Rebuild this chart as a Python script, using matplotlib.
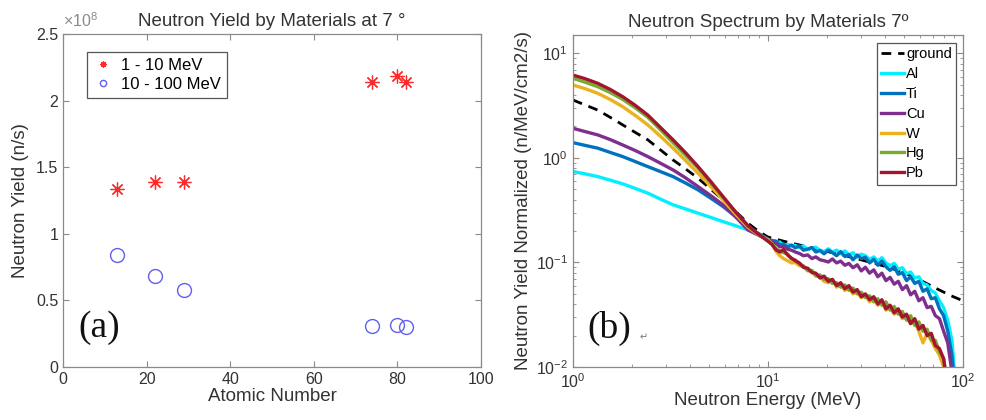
import matplotlib
matplotlib.use("Agg")
import matplotlib.pyplot as plt
from matplotlib.ticker import LogLocator, NullFormatter, FuncFormatter

plt.rcParams['font.family'] = ['Liberation Sans', 'DejaVu Sans']
plt.rcParams['mathtext.fontset'] = 'custom'
plt.rcParams['mathtext.rm'] = 'Liberation Sans'
plt.rcParams['mathtext.default'] = 'regular'

# ---- panel (a): integrated yield vs atomic number ----
atomic_number = [13, 22, 29, 74, 80, 82]
yield_1_10 = [1.34e8, 1.39e8, 1.39e8, 2.142e8, 2.187e8, 2.137e8]
yield_10_100 = [0.84e8, 0.683e8, 0.576e8, 0.31e8, 0.313e8, 0.30e8]

# ---- panel (b): spectra ----
ground_energy = [1.0, 1.15, 1.34, 1.55, 1.8, 2.08, 2.42, 2.8, 3.26, 3.78, 4.38, 5.08,
                 5.88, 6.8, 7.89, 8.9, 10.0, 12.0, 14.5, 17.5, 21.0, 25.0, 30.0, 36.0,
                 43.0, 52.0, 62.0, 75.0, 87.0, 100.0]
ground_flux = [3.58, 3.22, 2.87, 2.45, 2.07, 1.76, 1.49, 1.20, 0.957, 0.785, 0.64, 0.505,
               0.397, 0.31, 0.238, 0.20, 0.175, 0.16, 0.147, 0.135, 0.125, 0.116, 0.106, 0.097,
               0.088, 0.077, 0.066, 0.055, 0.048, 0.043]

energy_mev = [1.0, 1.15, 1.34, 1.55, 1.8, 2.08, 2.42, 2.8, 3.26, 3.78, 4.38, 5.08, 5.88,
              6.8, 7.89, 8.9, 10.0, 10.5, 11.0, 11.5, 12.0, 12.6, 13.2, 13.8, 14.5, 15.2,
              16.0, 16.8, 17.6, 18.5, 19.4, 20.4, 21.4, 22.5, 23.6, 24.8, 26.0, 27.3, 28.7,
              30.1, 31.6, 33.2, 34.9, 36.6, 38.4, 40.3, 42.3, 44.4, 46.6, 48.9, 51.4, 53.9,
              56.6, 59.4, 62.4, 65.5, 68.8, 72.2, 75.8, 79.6, 83.6, 87.8, 92.2]

flux_al = [0.741, 0.705, 0.663, 0.613, 0.565, 0.512, 0.46, 0.405, 0.356, 0.325, 0.296, 0.27,
           0.246, 0.225, 0.205, 0.185, 0.163,
           0.160, 0.154, 0.157, 0.146, 0.149, 0.143, 0.146, 0.139, 0.144, 0.133, 0.137, 0.140,
           0.131, 0.127, 0.135, 0.126, 0.131, 0.121, 0.129, 0.118, 0.124, 0.112, 0.120, 0.116,
           0.107, 0.113, 0.103, 0.111, 0.099, 0.093, 0.098, 0.086, 0.089, 0.078, 0.081, 0.071,
           0.073, 0.063, 0.061, 0.054, 0.051, 0.043, 0.037, 0.028, 0.018, 0.006]
flux_ti = [1.40, 1.32, 1.24, 1.13, 1.03, 0.925, 0.826, 0.742, 0.663, 0.575, 0.495, 0.413,
           0.343, 0.277, 0.221, 0.19, 0.168,
           0.162, 0.160, 0.147, 0.150, 0.140, 0.147, 0.138, 0.144, 0.131, 0.134, 0.139, 0.126,
           0.130, 0.121, 0.131, 0.124, 0.116, 0.127, 0.114, 0.119, 0.106, 0.118, 0.109, 0.112,
           0.099, 0.107, 0.094, 0.103, 0.091, 0.084, 0.091, 0.077, 0.080, 0.067, 0.073, 0.063,
           0.066, 0.053, 0.056, 0.045, 0.046, 0.036, 0.031, 0.022, 0.013, 0.005]
flux_cu = [1.92, 1.79, 1.66, 1.50, 1.33, 1.18, 1.03, 0.893, 0.768, 0.645, 0.532, 0.437,
           0.356, 0.275, 0.205, 0.183, 0.165,
           0.158, 0.152, 0.141, 0.143, 0.134, 0.131, 0.126, 0.122, 0.116, 0.118, 0.109, 0.113,
           0.106, 0.104, 0.101, 0.108, 0.099, 0.103, 0.094, 0.098, 0.089, 0.095, 0.083, 0.090,
           0.079, 0.085, 0.073, 0.079, 0.067, 0.072, 0.062, 0.066, 0.055, 0.060, 0.049, 0.053,
           0.043, 0.046, 0.037, 0.038, 0.031, 0.029, 0.022, 0.017, 0.009, 0.004]
flux_w = [4.98, 4.61, 4.15, 3.63, 3.09, 2.56, 2.07, 1.62, 1.24, 0.944, 0.714, 0.535,
          0.397, 0.292, 0.218, 0.185, 0.165,
          0.150, 0.128, 0.116, 0.109, 0.104, 0.099, 0.100, 0.093, 0.091, 0.083, 0.082, 0.074,
          0.073, 0.066, 0.064, 0.068, 0.058, 0.062, 0.054, 0.058, 0.050, 0.053, 0.046, 0.049,
          0.042, 0.045, 0.039, 0.041, 0.035, 0.037, 0.032, 0.034, 0.029, 0.030, 0.026, 0.027,
          0.022, 0.017, 0.021, 0.018, 0.015, 0.013, 0.010, 0.005, 0.003, 0.002]
flux_hg = [5.77, 5.32, 4.80, 4.23, 3.63, 3.03, 2.45, 1.87, 1.40, 1.06, 0.80, 0.581,
           0.42, 0.305, 0.225, 0.188, 0.160,
           0.150, 0.136, 0.128, 0.124, 0.121, 0.108, 0.106, 0.096, 0.093, 0.084, 0.084, 0.075,
           0.076, 0.069, 0.070, 0.063, 0.064, 0.058, 0.061, 0.054, 0.057, 0.050, 0.052, 0.046,
           0.048, 0.042, 0.045, 0.039, 0.042, 0.035, 0.038, 0.032, 0.034, 0.028, 0.031, 0.025,
           0.027, 0.022, 0.023, 0.018, 0.018, 0.014, 0.012, 0.007, 0.003, 0.002]
flux_pb = [6.2, 5.74, 5.17, 4.53, 3.85, 3.20, 2.57, 1.97, 1.49, 1.12, 0.826, 0.597,
           0.427, 0.307, 0.225, 0.188, 0.160,
           0.148, 0.132, 0.126, 0.133, 0.118, 0.110, 0.104, 0.099, 0.090, 0.088, 0.080, 0.079,
           0.071, 0.074, 0.066, 0.069, 0.060, 0.064, 0.056, 0.060, 0.052, 0.055, 0.047, 0.050,
           0.044, 0.047, 0.040, 0.044, 0.036, 0.039, 0.033, 0.036, 0.030, 0.032, 0.026, 0.029,
           0.023, 0.025, 0.020, 0.021, 0.016, 0.015, 0.012, 0.006, 0.003, 0.002]

materials = ['Al', 'Ti', 'Cu', 'W', 'Hg', 'Pb']
spectra = [flux_al, flux_ti, flux_cu, flux_w, flux_hg, flux_pb]
colors = ['#00F0FF', '#0072BD', '#7E2F8E', '#EDB120', '#77AC30', '#A2142F']

axis_gray = '#8a8a8a'
text_gray = '#333333'
LABEL_SIZE = 13.5
TICK_SIZE = 11.5


def style_box(ax):
    for sp in ax.spines.values():
        sp.set_color(axis_gray)
        sp.set_linewidth(0.9)
    ax.tick_params(which='both', direction='in', top=True, right=True,
                   color=axis_gray, labelcolor=text_gray, labelsize=TICK_SIZE)
    ax.tick_params(which='major', length=4)
    ax.tick_params(which='minor', length=2)


def finish_legend(leg):
    leg.get_frame().set_edgecolor('#555555')
    leg.get_frame().set_linewidth(0.9)


fig = plt.figure(figsize=(9.86, 4.2), dpi=100)

# left panel
ax1 = fig.add_axes([0.0639, 0.126, 0.424, 0.793])
ax1.plot(atomic_number, yield_1_10, linestyle='none', marker=(8, 2, 0),
         ms=10, mew=0.9, color='#ff2a2a', label='1 - 10 MeV')
ax1.plot(atomic_number, yield_10_100, linestyle='none', marker='o',
         ms=10, mew=1.0, mfc='none', mec='#6060f0', label='10 - 100 MeV')
ax1.set_xlim(0, 100)
ax1.set_ylim(0, 2.5e8)
ax1.set_xticks([0, 20, 40, 60, 80, 100])
ax1.set_yticks([0, 0.5e8, 1e8, 1.5e8, 2e8, 2.5e8])
ax1.yaxis.set_major_formatter(FuncFormatter(lambda v, _: f'{v / 1e8:g}'))
style_box(ax1)
ax1.text(0.0, 1.012, r'$\times10^{8}$', transform=ax1.transAxes, ha='left', va='bottom',
         fontsize=TICK_SIZE, color=axis_gray)
ax1.set_xlabel('Atomic Number', fontsize=LABEL_SIZE, color=text_gray, labelpad=1)
ax1.set_ylabel('Neutron Yield (n/s)', fontsize=LABEL_SIZE, color=text_gray, labelpad=5)
ax1.set_title('Neutron Yield by Materials at 7 °', fontsize=LABEL_SIZE, color=text_gray,
              pad=6)
leg1 = ax1.legend(loc='upper left', bbox_to_anchor=(0.057, 0.946), borderaxespad=0,
                  fontsize=12, markerscale=0.45, handlelength=1.2, handletextpad=0.5,
                  labelspacing=0.25, fancybox=False, framealpha=1, borderpad=0.35)
finish_legend(leg1)
ax1.text(0.036, 0.117, '(a)', transform=ax1.transAxes, ha='left', va='center',
         fontsize=27, family='Liberation Serif', color='#111111')

# right panel
ax2 = fig.add_axes([0.5811, 0.1262, 0.3955, 0.7905])
ax2.plot(ground_energy, ground_flux, color='black', lw=2.0, dashes=(3.5, 2.5),
         label='ground')
for name, flux, c in zip(materials, spectra, colors):
    ax2.plot(energy_mev, flux, color=c, lw=2.4, label=name)
ax2.set_xscale('log')
ax2.set_yscale('log')
ax2.set_xlim(1, 100)
ax2.set_ylim(1e-2, 15)
ax2.xaxis.set_minor_locator(LogLocator(base=10, subs=range(2, 10)))
ax2.yaxis.set_minor_locator(LogLocator(base=10, subs=range(2, 10)))
ax2.xaxis.set_minor_formatter(NullFormatter())
ax2.yaxis.set_minor_formatter(NullFormatter())
style_box(ax2)
ax2.set_xlabel('Neutron Energy (MeV)', fontsize=LABEL_SIZE, color=text_gray, labelpad=1)
ax2.set_ylabel('Neutron Yield Normalized (n/MeV/cm2/s)', fontsize=LABEL_SIZE,
               color=text_gray, labelpad=3)
ax2.set_title('Neutron Spectrum by Materials 7º', fontsize=LABEL_SIZE, color=text_gray,
              pad=6)
leg2 = ax2.legend(loc='upper left', bbox_to_anchor=(0.779, 0.976), borderaxespad=0,
                  fontsize=10.5, handlelength=1.6, handletextpad=0.1, labelspacing=0.4,
                  fancybox=False, framealpha=1, borderpad=0.3)
finish_legend(leg2)
ax2.text(0.038, 0.117, '(b)', transform=ax2.transAxes, ha='left', va='center',
         fontsize=27, family='Liberation Serif', color='#111111')
ax2.text(0.17, 0.09, '↵', transform=ax2.transAxes, ha='left', va='center',
         fontsize=7, family='DejaVu Sans', color='#777777')

fig.savefig('out.png', dpi=100)
